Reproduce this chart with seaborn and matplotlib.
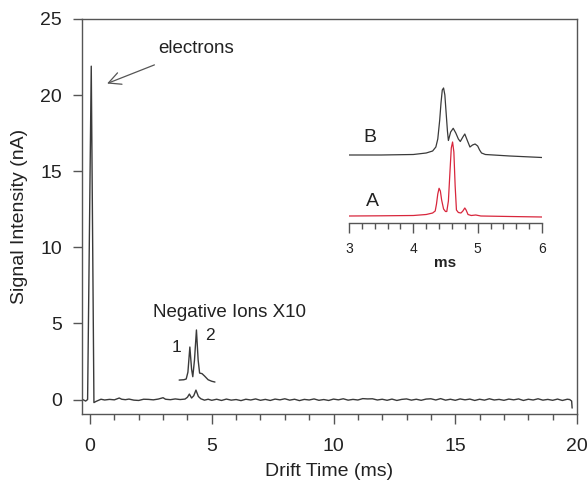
import matplotlib
matplotlib.use("Agg")
import matplotlib.pyplot as plt
import seaborn as sns
import numpy as np
import pandas as pd
from matplotlib.ticker import MultipleLocator

# ---------------- data ----------------
# main drift-time trace (ms, nA)
main_time = [-0.30, -0.18, -0.10, 0.05, 0.16, 0.25, 0.35, 0.45, 0.60, 0.80, 1.00,
             1.20, 1.30, 1.45, 1.60, 1.80, 2.00, 2.20, 2.40, 2.60, 2.80,
             3.00, 3.10, 3.30, 3.50, 3.70, 3.90, 4.00, 4.08, 4.17, 4.26,
             4.35, 4.45, 4.55, 4.70, 4.85,
             5.0, 5.2, 5.4, 5.6, 5.8, 6.0, 6.2, 6.4, 6.6, 6.8,
             7.0, 7.2, 7.4, 7.6, 7.8, 8.0, 8.2, 8.4, 8.6, 8.8,
             9.0, 9.2, 9.4, 9.6, 9.8, 10.0, 10.2, 10.4, 10.6, 10.8,
             11.0, 11.2, 11.4, 11.6, 11.8, 12.0, 12.2, 12.4, 12.6, 12.8,
             13.0, 13.2, 13.4, 13.6, 13.8, 14.0, 14.2, 14.4, 14.6, 14.8,
             15.0, 15.2, 15.4, 15.6, 15.8, 16.0, 16.2, 16.4, 16.6, 16.8,
             17.0, 17.2, 17.4, 17.6, 17.8, 18.0, 18.2, 18.4, 18.6, 18.8,
             19.0, 19.2, 19.4, 19.6, 19.70, 19.78, 19.80]
main_signal = [0.00, -0.10, 0.00, 21.9, -0.20, -0.12, -0.05, 0.02, -0.03, 0.01, -0.02,
               0.10, 0.02, -0.01, 0.03, -0.04, -0.06, 0.02, 0.01, -0.02, 0.03,
               0.12, 0.02, -0.01, 0.04, 0.00, 0.03, 0.15, 0.36, 0.10, 0.25,
               0.62, 0.20, 0.05, -0.04, 0.02,
               -0.05, 0.02, -0.06, 0.03, -0.04, 0.00, -0.07, 0.02, -0.03, 0.04,
               -0.05, 0.01, -0.06, 0.03, -0.02, 0.05, -0.04, 0.02, -0.07, 0.01,
               -0.03, 0.04, -0.05, 0.00, -0.06, 0.03, -0.02, 0.05, -0.04, 0.01,
               -0.03, 0.06, 0.04, 0.05, -0.03, 0.02, -0.05, 0.03, -0.06, 0.01,
               0.04, -0.04, 0.02, -0.05, 0.03, 0.05, -0.03, 0.06, -0.04, 0.02,
               -0.05, 0.04, -0.02, 0.03, -0.06, 0.02, -0.04, 0.05, -0.03, 0.01,
               -0.05, 0.03, -0.02, 0.04, -0.06, 0.02, -0.03, 0.05, -0.04, 0.01,
               -0.05, 0.03, -0.06, 0.02, 0.00, -0.10, -0.56]

# negative-ion region magnified x10 (ms, nA as drawn)
neg_time = [3.66, 3.85, 3.95, 4.02, 4.10, 4.17, 4.22, 4.29, 4.37, 4.44,
            4.50, 4.60, 4.70, 4.85, 5.00, 5.13]
neg_signal = [1.28, 1.30, 1.35, 1.80, 3.45, 2.00, 1.50, 2.60, 4.57, 2.60,
              1.74, 1.70, 1.55, 1.30, 1.20, 1.15]

# inset traces (ms, relative intensity above own baseline)
b_time = [3.0, 3.5, 4.0, 4.2, 4.30, 4.35, 4.38, 4.41, 4.43, 4.45,
          4.47, 4.49, 4.51, 4.53, 4.545, 4.58, 4.62, 4.66, 4.70, 4.73,
          4.77, 4.80, 4.83, 4.88, 4.92, 4.96, 5.00, 5.03, 5.06, 5.12,
          5.5, 6.0]
b_signal = [0.0, 0.0, 0.05, 0.2, 0.4, 0.8, 1.6, 3.5, 5.2, 6.5,
            6.7, 6.0, 4.2, 2.4, 1.45, 2.3, 2.67, 2.2, 1.6, 1.35,
            1.8, 2.1, 1.6, 0.8, 1.0, 1.1, 0.9, 0.5, 0.2, 0.05,
            -0.1, -0.25]
a_time = [3.0, 3.5, 4.0, 4.2, 4.30, 4.34, 4.36, 4.38, 4.40, 4.42,
          4.44, 4.47, 4.50, 4.52, 4.545, 4.57, 4.59, 4.61, 4.63, 4.65,
          4.67, 4.70, 4.74, 4.77, 4.80, 4.82, 4.85, 4.90, 4.97, 5.05,
          5.5, 6.0]
a_signal = [0.0, 0.02, 0.05, 0.15, 0.3, 0.5, 1.2, 2.2, 2.77, 2.5,
            1.6, 0.7, 0.45, 0.45, 1.5, 4.5, 6.8, 7.4, 6.4, 3.0,
            0.6, 0.35, 0.3, 0.5, 0.8, 0.6, 0.15, 0.05, 0.1, 0.0,
            -0.05, -0.1]

x_ticks = [0, 5, 10, 15, 20]
y_ticks = [0, 5, 10, 15, 20, 25]
inset_ticks = [3, 4, 5, 6]

# ---------------- styling ----------------
sns.set_theme(style="ticks")
plt.rcParams["font.family"] = ["Liberation Sans", "DejaVu Sans"]
LINE = "#3a3a3a"
SPINE = "#555555"
RED = "#d8263c"
TXT = "#222222"

fig = plt.figure(figsize=(5.88, 4.87), dpi=100)
ax = fig.add_axes([82 / 588, 73 / 487, 495 / 588, 395 / 487])

main_df = pd.DataFrame({"t": main_time, "s": main_signal})
neg_df = pd.DataFrame({"t": neg_time, "s": neg_signal})
sns.lineplot(data=main_df, x="t", y="s", ax=ax, color=LINE, lw=1.0,
             estimator=None, sort=False)
sns.lineplot(data=neg_df, x="t", y="s", ax=ax, color=LINE, lw=1.0,
             estimator=None, sort=False)

ax.set_xlim(-0.33, 20)
ax.set_ylim(-0.95, 25)
ax.set_xticks(x_ticks)
ax.set_yticks(y_ticks)
ax.xaxis.set_minor_locator(MultipleLocator(1))
ax.tick_params(axis="y", which="major", direction="out", length=6.5,
               width=1, color=SPINE, labelsize=14, labelcolor=TXT, pad=8)
ax.tick_params(axis="x", which="major", direction="out", length=7,
               width=1, color=SPINE, labelsize=14, labelcolor=TXT, pad=10)
ax.tick_params(axis="x", which="minor", direction="out", length=4.3,
               width=1, color=SPINE)
for sp in ax.spines.values():
    sp.set_visible(True)
    sp.set_color(SPINE)
    sp.set_linewidth(1.0)
ax.set_xlabel("Drift Time (ms)", fontsize=14, color=TXT, labelpad=6)
ax.set_ylabel("Signal Intensity (nA)", fontsize=14, color=TXT, labelpad=9)

ax.annotate("electrons", xy=(0.70, 20.76), xytext=(4.35, 23.06),
            ha="center", va="center", fontsize=13.5, color=TXT,
            arrowprops=dict(arrowstyle="->", color="#555555", lw=0.9,
                            shrinkA=9, shrinkB=0, mutation_scale=22))
ax.text(5.71, 5.75, "Negative Ions X10", ha="center", va="center",
        fontsize=13.5, color=TXT)
ax.text(3.57, 3.39, "1", ha="center", va="center", fontsize=12.5, color=TXT)
ax.text(4.93, 4.24, "2", ha="center", va="center", fontsize=12.5, color=TXT)

# ---------------- inset ----------------
ins = fig.add_axes([349 / 588, 264 / 487, 193 / 588, 143 / 487])
ins.patch.set_alpha(0)
b_df = pd.DataFrame({"t": b_time, "s": np.array(b_signal) + 6.1})
a_df = pd.DataFrame({"t": a_time, "s": a_signal})
sns.lineplot(data=b_df, x="t", y="s", ax=ins, color=LINE, lw=0.9,
             estimator=None, sort=False)
sns.lineplot(data=a_df, x="t", y="s", ax=ins, color=RED, lw=0.9,
             estimator=None, sort=False)
ins.set_xlim(3, 6)
ins.set_ylim(-0.7, 13.6)
ins.set_xticks(inset_ticks)
ins.xaxis.set_minor_locator(MultipleLocator(0.2))
ins.set_yticks([])
for name in ["top", "right", "left"]:
    ins.spines[name].set_visible(False)
ins.spines["bottom"].set_color(SPINE)
ins.spines["bottom"].set_linewidth(1.0)
ins.tick_params(axis="x", which="major", direction="out", length=7, width=1,
                color=SPINE, labelsize=10, labelcolor=TXT, pad=7)
ins.tick_params(axis="x", which="minor", direction="out", length=4, width=1,
                color=SPINE)
ins.set_xlabel("ms", fontsize=11, fontweight="bold", color=TXT, labelpad=0)
ins.set_ylabel("")
ins.text(3.33, 7.8, "B", ha="center", va="center", fontsize=14, color=TXT)
ins.text(3.36, 1.4, "A", ha="center", va="center", fontsize=14, color=TXT)

fig.savefig("out.png", dpi=100)
